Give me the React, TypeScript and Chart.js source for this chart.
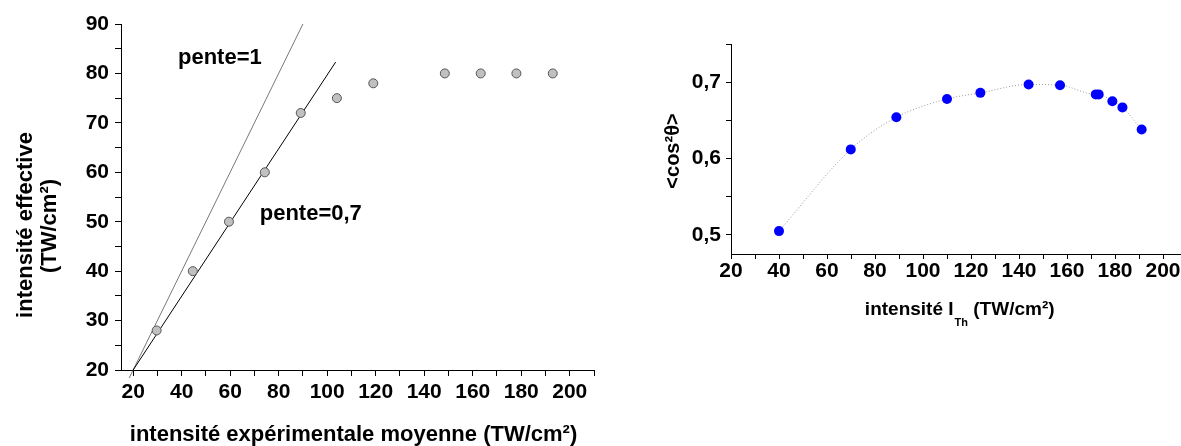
import React, { useEffect, useRef } from "react";
import { Chart, registerables } from "chart.js";

Chart.register(...registerables);

// ---- Left chart data ----
const expIntensity = [29.7, 44.6, 59.5, 74.3, 89.1, 104, 119, 148.5, 163.3, 178, 193];
const effIntensity = [28, 40, 50, 60, 72, 75, 78, 80, 80, 80, 80];
const slope1X = [18.4, 90];
const slope1Y = [18.4, 90];
const slope07X = [20, 103.5];
const slope07Y = [20, 82.3];
const leftXTicksMin = 15;
const leftXTicksMax = 210;
const leftYMin = 20;
const leftYMax = 90;

// ---- Right chart data ----
const thIntensity = [40, 69.9, 88.9, 110, 123.9, 144, 157.1, 172, 173.2, 178.9, 183.1, 191.1];
const cos2Theta = [0.505, 0.612, 0.654, 0.678, 0.686, 0.697, 0.696, 0.684, 0.684, 0.675, 0.667, 0.638];
const rightXMin = 20;
const rightXMax = 210;
const rightYMin = 0.475;
const rightYMax = 0.75;

const FONT = "'Liberation Sans', Arial, Helvetica, sans-serif";

function toPts(xs: number[], ys: number[]) {
  return xs.map((x, i) => ({ x, y: ys[i] }));
}

function axisCommon(tickLength: number) {
  return {
    border: { display: true, color: "#000", width: 1 },
    grid: {
      display: true,
      drawOnChartArea: false,
      drawTicks: true,
      tickLength,
      color: "#000",
      lineWidth: 1,
    },
  };
}

const tickFont = { family: FONT, size: 21, weight: "bold" as const };

export default function App() {
  const leftRef = useRef<HTMLCanvasElement | null>(null);
  const rightRef = useRef<HTMLCanvasElement | null>(null);

  useEffect(() => {
    const leftTitles = {
      id: "leftTitles",
      afterDraw(chart: any) {
        const ctx = chart.ctx;
        const xs = chart.scales.x;
        const ys = chart.scales.y;
        ctx.save();
        ctx.fillStyle = "#000";
        ctx.font = `bold 22px ${FONT}`;
        // x title
        ctx.textAlign = "center";
        ctx.textBaseline = "alphabetic";
        ctx.fillText("intensité expérimentale moyenne (TW/cm²)", 353.5, 441);
        // y title (two lines, rotated)
        ctx.save();
        ctx.translate(26, 225);
        ctx.rotate(-Math.PI / 2);
        ctx.textBaseline = "middle";
        ctx.fillText("intensité effective", 0, 0);
        ctx.restore();
        ctx.save();
        ctx.translate(50, 226);
        ctx.rotate(-Math.PI / 2);
        ctx.textBaseline = "middle";
        ctx.fillText("(TW/cm²)", 0, 0);
        ctx.restore();
        // annotations
        ctx.textAlign = "left";
        ctx.textBaseline = "alphabetic";
        ctx.fillText("pente=1", xs.getPixelForValue(38.5), ys.getPixelForValue(81.9));
        ctx.fillText("pente=0,7", xs.getPixelForValue(72.2), ys.getPixelForValue(50.35));
        ctx.restore();
      },
    };

    const left = new Chart(leftRef.current as HTMLCanvasElement, {
      type: "scatter",
      data: {
        datasets: [
          {
            data: toPts(expIntensity, effIntensity),
            backgroundColor: "#c0c0c0",
            borderColor: "#555",
            borderWidth: 1,
            pointRadius: 4.5,
            showLine: false,
          },
          {
            data: toPts(slope07X, slope07Y),
            showLine: true,
            borderColor: "#000",
            borderWidth: 1,
            pointRadius: 0,
            clip: false,
          },
          {
            data: toPts(slope1X, slope1Y),
            showLine: true,
            borderColor: "#555",
            borderWidth: 0.8,
            pointRadius: 0,
            clip: false,
          },
        ],
      },
      options: {
        animation: false,
        responsive: false,
        maintainAspectRatio: false,
        layout: { padding: { top: 24, right: 16, left: 0, bottom: 0 } },
        plugins: { legend: { display: false }, tooltip: { enabled: false } },
        scales: {
          x: {
            type: "linear",
            min: leftXTicksMin,
            max: leftXTicksMax,
            afterFit: (s: any) => {
              s.height = 76;
            },
            ...axisCommon(6),
            ticks: {
              stepSize: 10,
              includeBounds: false,
              autoSkip: false,
              maxRotation: 0,
              padding: 4,
              color: "#000",
              font: tickFont,
              callback: (v: any) => (Math.round(v) % 20 === 0 ? String(Math.round(v)) : ""),
            },
          },
          y: {
            type: "linear",
            min: leftYMin,
            max: leftYMax,
            afterFit: (s: any) => {
              s.width = 121;
            },
            ...axisCommon(6),
            ticks: {
              stepSize: 5,
              includeBounds: false,
              autoSkip: false,
              padding: 6,
              color: "#000",
              font: tickFont,
              callback: (v: any) => (Math.round(v) % 10 === 0 ? String(Math.round(v)) : ""),
            },
          },
        },
      },
      plugins: [leftTitles],
    } as any);

    const rightTitles = {
      id: "rightTitles",
      afterDraw(chart: any) {
        const ctx = chart.ctx;
        ctx.save();
        ctx.fillStyle = "#000";
        // y title
        ctx.font = `bold 20px ${FONT}`;
        ctx.save();
        ctx.translate(33.5, 151);
        ctx.rotate(-Math.PI / 2);
        ctx.textAlign = "center";
        ctx.textBaseline = "middle";
        ctx.fillText("<cos²θ>", 0, 0);
        ctx.restore();
        // x title with subscript
        const mainFont = `bold 19px ${FONT}`;
        const subFont = `bold 11px ${FONT}`;
        const p1 = "intensité I";
        const p2 = "Th";
        const p3 = " (TW/cm²)";
        ctx.font = mainFont;
        const w1 = ctx.measureText(p1).width;
        const w3 = ctx.measureText(p3).width;
        ctx.font = subFont;
        const w2 = ctx.measureText(p2).width;
        const total = w1 + 1 + w2 + w3;
        let x = 319.7 - total / 2;
        ctx.textAlign = "left";
        ctx.textBaseline = "alphabetic";
        ctx.font = mainFont;
        ctx.fillText(p1, x, 315);
        x += w1 + 1;
        ctx.font = subFont;
        ctx.fillText(p2, x, 326);
        x += w2;
        ctx.font = mainFont;
        ctx.fillText(p3, x, 315);
        ctx.restore();
      },
    };

    const right = new Chart(rightRef.current as HTMLCanvasElement, {
      type: "scatter",
      data: {
        datasets: [
          {
            data: toPts(thIntensity, cos2Theta),
            backgroundColor: "#0000ff",
            borderColor: "#0000ff",
            borderWidth: 0,
            pointRadius: 5,
            showLine: false,
          },
          {
            data: toPts(thIntensity, cos2Theta),
            showLine: true,
            borderColor: "#9a9a9a",
            borderWidth: 1,
            borderDash: [1, 2],
            cubicInterpolationMode: "monotone",
            pointRadius: 0,
          },
        ],
      },
      options: {
        animation: false,
        responsive: false,
        maintainAspectRatio: false,
        layout: { padding: { top: 44, right: 13, left: 0, bottom: 0 } },
        plugins: { legend: { display: false }, tooltip: { enabled: false } },
        scales: {
          x: {
            type: "linear",
            min: rightXMin,
            max: rightXMax,
            afterFit: (s: any) => {
              s.height = 192;
            },
            ...axisCommon(5),
            ticks: {
              stepSize: 10,
              includeBounds: false,
              autoSkip: false,
              maxRotation: 0,
              padding: 0,
              color: "#000",
              font: tickFont,
              callback: (v: any) => (Math.round(v) % 20 === 0 ? String(Math.round(v)) : ""),
            },
          },
          y: {
            type: "linear",
            min: rightYMin,
            max: rightYMax,
            afterFit: (s: any) => {
              s.width = 91;
            },
            ...axisCommon(5),
            ticks: {
              stepSize: 0.05,
              includeBounds: false,
              autoSkip: false,
              padding: 5,
              color: "#000",
              font: tickFont,
              callback: (v: any) =>
                Math.abs(v * 10 - Math.round(v * 10)) < 1e-6 ? Number(v).toFixed(1).replace(".", ",") : "",
            },
          },
        },
      },
      plugins: [rightTitles],
    } as any);

    return () => {
      left.destroy();
      right.destroy();
    };
  }, []);

  return (
    <div
      style={{
        position: "fixed",
        left: 0,
        top: 0,
        width: 1181,
        height: 446,
        overflow: "hidden",
        background: "#fff",
      }}
    >
      <canvas
        ref={leftRef}
        width={610}
        height={446}
        style={{ position: "absolute", left: 0, top: 0, width: 610, height: 446 }}
      />
      <canvas
        ref={rightRef}
        width={560}
        height={446}
        style={{ position: "absolute", left: 640, top: 0, width: 560, height: 446 }}
      />
    </div>
  );
}
